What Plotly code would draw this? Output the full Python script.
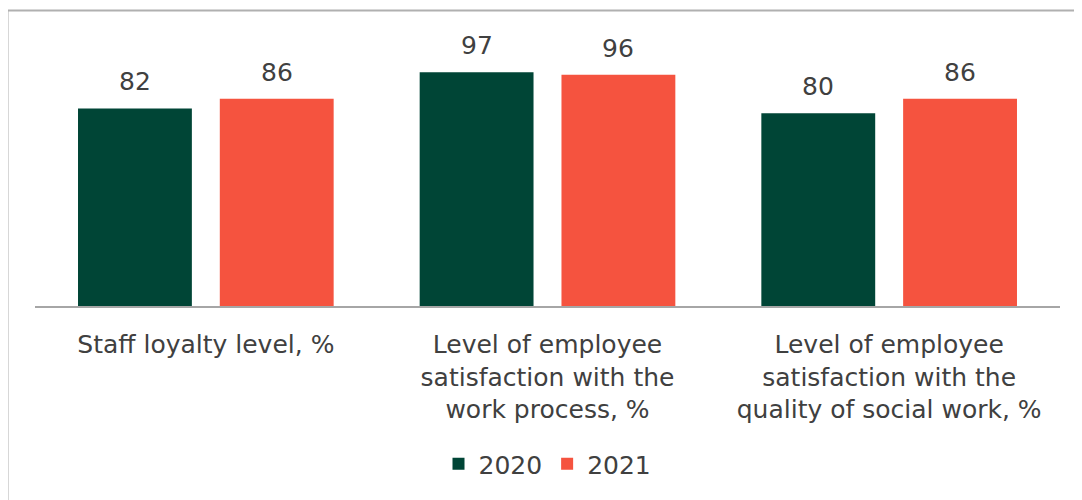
import plotly.graph_objects as go

categories = [
    "Staff loyalty level, %",
    "Level of employee<br>satisfaction with the<br>work process, %",
    "Level of employee<br>satisfaction with the<br>quality of social work, %",
]
series_names = ["2020", "2021"]
values_2020 = [82, 97, 80]
values_2021 = [86, 96, 86]
colors = ["#004536", "#F5533F"]

W, H = 1082, 500
OFF = 8  # page body margin
ML, MR, MT, MB = 35 - OFF, 30, 65 - OFF, 202
plot_w = W - ML - MR
plot_h = H - MT - MB
bargap = 0.17
bargroupgap = 0.197

FONT = "DejaVu Sans, Verdana, sans-serif"
TXT = "#404040"
FS = 25

fig = go.Figure()
for name, vals, col in zip(series_names, [values_2020, values_2021], colors):
    fig.add_trace(go.Bar(
        name=name, x=categories, y=vals, marker=dict(color=col, line=dict(width=0)),
    ))

# value labels as annotations above bars
cat_px = plot_w / len(categories)
slot = cat_px * (1 - bargap) / 2
for i, vals in enumerate([values_2020, values_2021]):
    shift = (i - 0.5) * slot
    for c, v in zip(categories, vals):
        fig.add_annotation(x=c, y=v, xref="x", yref="y", text=str(v), showarrow=False,
                           xshift=shift, yshift=10, yanchor="bottom",
                           font=dict(family=FONT, size=FS, color=TXT))

# outer border (page pixel coordinates 7,10 -> off-screen right/bottom)
fig.add_shape(type="rect", xref="paper", yref="paper",
              x0=(7.5 - OFF - ML) / plot_w, x1=(W + 20 - ML) / plot_w,
              y0=-(MB + 30) / plot_h, y1=(H - MB - (10.5 - OFF)) / plot_h,
              line=dict(color="#B0B0B0", width=2), fillcolor="rgba(0,0,0,0)", layer="below")

fig.update_layout(
    width=W, height=H,
    margin=dict(l=ML, r=MR, t=MT, b=MB),
    barmode="group", bargap=bargap, bargroupgap=bargroupgap,
    plot_bgcolor="white", paper_bgcolor="white",
    font=dict(family=FONT, size=FS, color=TXT),
    showlegend=True,
    legend=dict(orientation="h", x=0.5, xanchor="center", y=-(464 - OFF - (H - MB)) / plot_h,
                yanchor="middle", font=dict(family=FONT, size=FS, color=TXT), itemwidth=30,
                traceorder="normal"),
    xaxis=dict(showline=True, linecolor="#A6A6A6", linewidth=2, ticks="",
               showgrid=False, tickfont=dict(family=FONT, size=FS, color=TXT),
               ticklabelstandoff=15),
    yaxis=dict(range=[0, 100], visible=False, showgrid=False, zeroline=False),
)

fig.write_html("out.html")
